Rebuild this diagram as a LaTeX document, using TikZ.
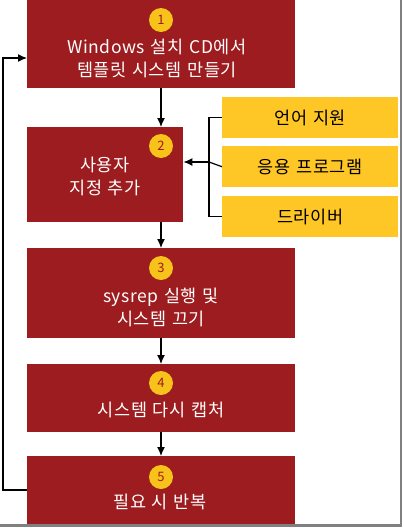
\documentclass[tikz,border=0pt]{standalone}
\usepackage{fontspec}
\setmainfont{Noto Sans CJK KR}[LetterSpace=3, WordSpace=1.3]
\usetikzlibrary{arrows.meta}
\definecolor{stepred}{HTML}{9C1C1F}
\definecolor{addyellow}{HTML}{FFC726}
\definecolor{numyellow}{HTML}{F7C21A}

\tikzset{
  stepbox/.style={fill=stepred, draw=none, anchor=north west, minimum width=268pt},
  addbox/.style={fill=addyellow, draw=none, anchor=north west, minimum width=176pt, minimum height=41pt,
    font=\fontsize{17.5pt}{19pt}\selectfont},
  steptext/.style={white, align=center, font=\fontsize{17.5pt}{23pt}\selectfont},
  numdot/.style={circle, fill=numyellow, minimum size=24pt, inner sep=0pt, text=stepred,
    font=\fontsize{13pt}{13pt}\selectfont},
  flow/.style={-{Latex[length=9pt,width=8pt]}, line width=1.2pt}
}

\begin{document}
\begin{tikzpicture}[x=1pt, y=-1pt]
  \useasboundingbox (0,0) rectangle (404,528);

  % the five steps
  \node[stepbox, minimum height=88pt] (s1) at (27,0) {};
  \node[stepbox, minimum width=156pt, minimum height=95pt] (s2) at (27,127) {};
  \node[stepbox, minimum height=90pt] (s3) at (27,248) {};
  \node[stepbox, minimum height=68pt] (s4) at (27,364) {};
  \node[stepbox, minimum height=68pt] (s5) at (27,456) {};

  % numbers
  \node[numdot] (n1) at (161,20) {1};
  \node[numdot] (n2) at (161,146) {2};
  \node[numdot] (n3) at (161,268) {3};
  \node[numdot] (n4) at (161,383) {4};
  \node[numdot] (n5) at (161,477) {5};

  % texts
  \node[steptext] (t1) at (157,58) {Windows 설치 CD에서\\템플릿 시스템 만들기};
  \node[steptext] (t2) at (105,176) {사용자\\지정 추가};
  \node[steptext] (t3) at (161,307) {sysrep 실행 및\\시스템 끄기};
  \node[steptext] (t4) at (161,410) {시스템 다시 캡처};
  \node[steptext] (t5) at (160,502) {필요 시 반복};

  % additions
  \node[addbox] (a1) at (222,97) {언어 지원};
  \node[addbox] (a2) at (222,146) {응용 프로그램};
  \node[addbox] (a3) at (222,196) {드라이버};

  % connectors
  \draw[flow] (s1.south -| n1) -- (s2.north -| n1);
  \draw[flow] (s2.south -| n1) -- (s3.north -| n1);
  \draw[flow] (s3.south -| n1) -- (s4.north -| n1);
  \draw[flow] (s4.south -| n1) -- (s5.north -| n1);

  \coordinate (j) at (209,162);
  \draw[line width=1.2pt] (a1.west) -| (j) |- (a3.west);
  \draw[line width=1.2pt] (a2.west) -- (j);
  \draw[flow] (j) -- (s2.east |- j);

  \coordinate (back) at (3,490);
  \draw[flow] (s5.west |- back) -- (back) |- (s1.west |- t1);

  % frame shadow
  \draw[gray, line width=2.5pt] (401,0) -- (401,525.5) -- (0,525.5);
\end{tikzpicture}
\end{document}
